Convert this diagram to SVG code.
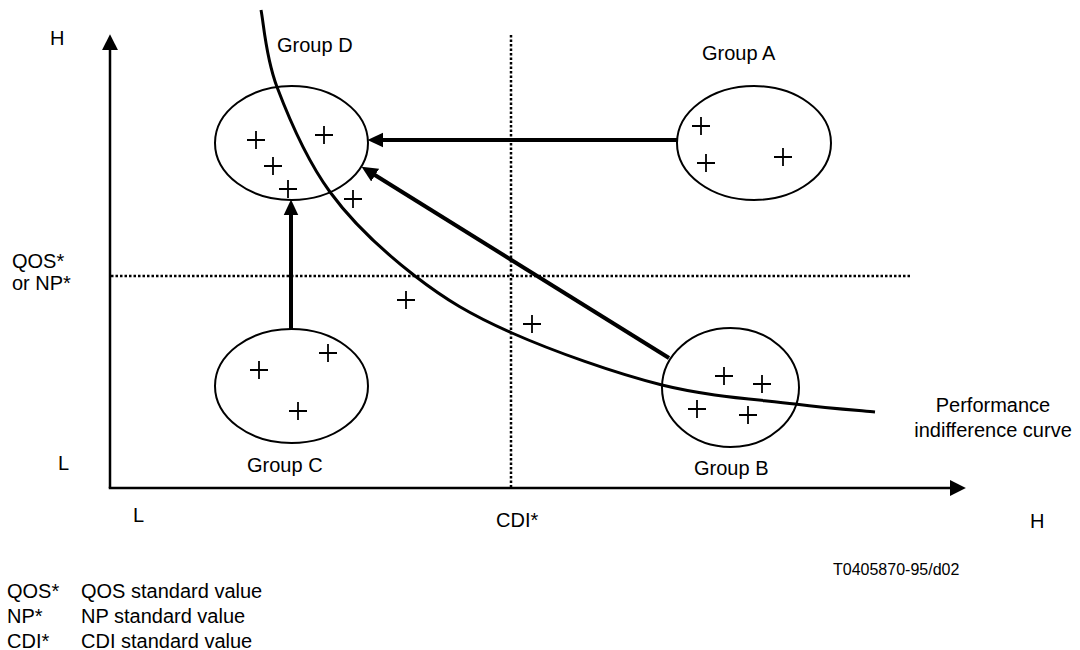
<svg xmlns="http://www.w3.org/2000/svg" width="1080" height="650" viewBox="0 0 1080 650">
<style>
text{font-family:"Liberation Sans",Arial,sans-serif;font-size:20px;fill:#000}
.small{font-size:16px}
.ell{fill:none;stroke:#000;stroke-width:2}
.pl{stroke:#000;stroke-width:1.8;fill:none}
.axis{stroke:#000;stroke-width:2.5;fill:none}
.dot{stroke:#000;stroke-width:2.5;stroke-dasharray:2.5 2;fill:none}
.arr{stroke:#000;stroke-width:4;fill:none}
.curve{stroke:#000;stroke-width:3;fill:none}
</style>
<defs>
<marker id="ah" markerUnits="userSpaceOnUse" markerWidth="16" markerHeight="16" refX="7" refY="7" orient="auto" viewBox="0 0 15 14">
<path d="M0,0 L15,7 L0,14 z" fill="#000"/>
</marker>
<marker id="axh" markerUnits="userSpaceOnUse" markerWidth="16" markerHeight="16" refX="8" refY="7" orient="auto" viewBox="0 0 14 14">
<path d="M0,0 L14,7 L0,14 z" fill="#000"/>
</marker>
<path id="p" d="M-9,0 H9 M0,-9 V9"/>
</defs>
<rect width="1080" height="650" fill="#fff"/>

<g id="axes">
<line class="axis" x1="110" y1="488" x2="110" y2="41" marker-end="url(#axh)"/>
<line class="axis" x1="108.75" y1="488" x2="959" y2="488" marker-end="url(#axh)"/>
<text x="50" y="45">H</text>
<text x="58" y="470">L</text>
<text x="133" y="522">L</text>
<text x="496" y="527">CDI*</text>
<text x="1030" y="528">H</text>
<text x="12" y="268">QOS*</text>
<text x="12" y="290">or NP*</text>
</g>

<g id="reference-lines">
<line class="dot" x1="511" y1="35" x2="511" y2="488"/>
<line class="dot" x1="111" y1="276" x2="912" y2="276"/>
</g>

<g id="curve">
<path class="curve" d="M261,10 C263.7,22.8 265.5,56.7 277,87 C288.5,117.3 307,160.5 330,192 C353,223.5 384.7,252.5 415,276 C445.3,299.5 470.8,314.8 512,333 C553.2,351.2 614.8,373.2 662,385 C709.2,396.8 759.5,399.5 795,404 C830.5,408.5 861.7,410.7 875,412"/>
<text x="993" y="412" text-anchor="middle">Performance</text>
<text x="993" y="437" text-anchor="middle">indifference curve</text>
</g>

<g id="group-d">
<ellipse class="ell" cx="291.5" cy="143" rx="76.5" ry="57"/>
<use href="#p" class="pl" x="256" y="140"/>
<use href="#p" class="pl" x="324" y="135"/>
<use href="#p" class="pl" x="273" y="166"/>
<use href="#p" class="pl" x="288" y="189"/>
<text x="277" y="52">Group D</text>
</g>

<g id="group-a">
<ellipse class="ell" cx="754" cy="143" rx="77" ry="57"/>
<use href="#p" class="pl" x="701" y="126"/>
<use href="#p" class="pl" x="706" y="163"/>
<use href="#p" class="pl" x="783" y="157"/>
<text x="702" y="60">Group A</text>
</g>

<g id="group-c">
<ellipse class="ell" cx="291.5" cy="386" rx="76.5" ry="57"/>
<use href="#p" class="pl" x="259" y="370"/>
<use href="#p" class="pl" x="328" y="353"/>
<use href="#p" class="pl" x="298" y="411"/>
<text x="247" y="472">Group C</text>
</g>

<g id="group-b">
<ellipse class="ell" cx="730.5" cy="387.5" rx="68.5" ry="59.5"/>
<use href="#p" class="pl" x="724" y="376"/>
<use href="#p" class="pl" x="762" y="384"/>
<use href="#p" class="pl" x="697" y="409"/>
<use href="#p" class="pl" x="748" y="415"/>
<text x="694" y="475">Group B</text>
</g>

<g id="points">
<use href="#p" class="pl" x="353" y="199"/>
<use href="#p" class="pl" x="406" y="300"/>
<use href="#p" class="pl" x="532" y="324"/>
</g>

<g id="connectors">
<line class="arr" x1="677" y1="140" x2="376" y2="140" marker-end="url(#ah)"/>
<line class="arr" x1="669" y1="358" x2="368.8" y2="171.2" marker-end="url(#ah)"/>
<line class="arr" x1="291" y1="329" x2="291" y2="208" marker-end="url(#ah)"/>
</g>

<g id="legend">
<text class="small" x="833" y="575">T0405870-95/d02</text>
<text x="7" y="598">QOS*</text>
<text x="81" y="598">QOS standard value</text>
<text x="7" y="623">NP*</text>
<text x="81" y="623">NP standard value</text>
<text x="7" y="648">CDI*</text>
<text x="81" y="648">CDI standard value</text>
</g>
</svg>
